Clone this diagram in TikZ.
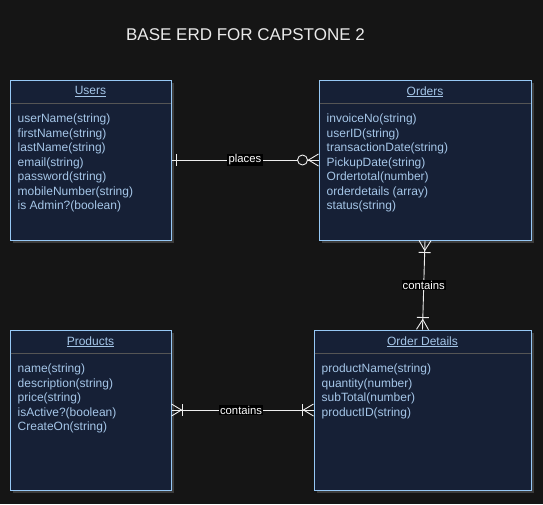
\documentclass[tikz,border=0pt]{standalone}
\usepackage{fontspec}
\setmainfont{Liberation Sans}
\usetikzlibrary{calc,shadows}
\definecolor{bgc}{RGB}{21,21,21}
\definecolor{boxfill}{RGB}{22,32,54}
\definecolor{boxline}{RGB}{150,200,245}
\definecolor{txt}{RGB}{165,198,232}
\definecolor{sepline}{RGB}{85,85,85}
\definecolor{shad}{RGB}{60,60,60}
\definecolor{conc}{RGB}{238,238,238}
\tikzset{
  entity/.style={draw=boxline, fill=boxfill, line width=1pt, inner sep=0pt,
    drop shadow={shadow xshift=2.5pt, shadow yshift=-2.5pt, fill=shad, opacity=1}},
  ehead/.style={text=txt, font=\fontsize{12}{14}\selectfont, inner sep=0pt},
  eattr/.style={text=txt, font=\fontsize{12}{14.5}\selectfont, align=left, inner sep=0pt, anchor=north west},
  sep/.style={draw=sepline, line width=1.5pt},
  conn/.style={draw=conc, line width=0.9pt},
  rlabel/.style={fill=black, text=white, font=\fontsize{11.3}{13}\selectfont, inner sep=1.2pt},
}
\newcommand\crowfoot[2]{%
  \draw[conn] ($(#1)!6pt!90:(#2)$) -- ($(#1)!10pt!(#2)$) -- ($(#1)!6pt!-90:(#2)$);}
\newcommand\barmark[3]{%
  \coordinate (bm) at ($(#1)!#3!(#2)$);
  \draw[conn] ($(bm)!6pt!90:(#2)$) -- ($(bm)!6pt!-90:(#2)$);}
\newcommand\ringmark[3]{%
  \coordinate (rm) at ($(#1)!#3!(#2)$);
  \draw[conn, fill=bgc] (rm) circle (5pt);}
\begin{document}
\begin{tikzpicture}[x=1pt,y=-1pt]
\fill[bgc] (0,0) rectangle (543,504);
\useasboundingbox (0,0) rectangle (543,504);

\node[text={rgb,255:red,235;green,235;blue,235}, font=\fontsize{17}{19}\selectfont, inner sep=0pt] (title) at (245.5,34.5) {BASE ERD FOR CAPSTONE 2};

% Users
\node[entity, minimum width=161pt, minimum height=160pt] (users) at (90.5,160) {};
\node[ehead] (usersh) at ($(users.north)+(0,12.3)$) {\underline{Users}};
\draw[sep] ($(users.north west)+(1,24)$) -- ($(users.north east)+(-1,24)$);
\node[eattr] (usersa) at ($(users.north west)+(8,34.3)$) {userName(string)\\firstName(string)\\lastName(string)\\email(string)\\password(string)\\mobileNumber(string)\\is Admin?(boolean)};

% Orders
\node[entity, minimum width=212pt, minimum height=160pt] (orders) at (425,160) {};
\node[ehead] (ordersh) at ($(orders.north)+(0,12.3)$) {\underline{Orders}};
\draw[sep] ($(orders.north west)+(1,24)$) -- ($(orders.north east)+(-1,24)$);
\node[eattr] (ordersa) at ($(orders.north west)+(8,34.3)$) {invoiceNo(string)\\userID(string)\\transactionDate(string)\\PickupDate(string)\\Ordertotal(number)\\orderdetails (array)\\status(string)};

% Products
\node[entity, minimum width=161pt, minimum height=160pt] (products) at (90.5,410) {};
\node[ehead] (productsh) at ($(products.north)+(0,12.3)$) {\underline{Products}};
\draw[sep] ($(products.north west)+(1,24)$) -- ($(products.north east)+(-1,24)$);
\node[eattr] (productsa) at ($(products.north west)+(8,34.3)$) {name(string)\\description(string)\\price(string)\\isActive?(boolean)\\CreateOn(string)};

% Order Details
\node[entity, minimum width=217pt, minimum height=160pt] (od) at (422.5,410) {};
\node[ehead] (odh) at ($(od.north)+(0,12.3)$) {\underline{Order Details}};
\draw[sep] ($(od.north west)+(1,24)$) -- ($(od.north east)+(-1,24)$);
\node[eattr] (oda) at ($(od.north west)+(8,34.3)$) {productName(string)\\quantity(number)\\subTotal(number)\\productID(string)};

% Users -- Orders (places)
\draw[conn] (users.east) -- node[rlabel, pos=0.5] (l1) {places} (orders.west);
\barmark{users.east}{orders.west}{5pt}
\crowfoot{orders.west}{users.east}
\ringmark{orders.west}{users.east}{16pt}

% Orders -- Order Details (contains)
\draw[conn] (orders.south) -- node[rlabel, pos=0.5] (l2) {contains} (od.north);
\crowfoot{orders.south}{od.north}
\barmark{orders.south}{od.north}{12pt}
\crowfoot{od.north}{orders.south}
\barmark{od.north}{orders.south}{12pt}

% Products -- Order Details (contains)
\draw[conn] (products.east) -- node[rlabel, pos=0.49] (l3) {contains} (od.west);
\crowfoot{products.east}{od.west}
\barmark{products.east}{od.west}{11pt}
\crowfoot{od.west}{products.east}
\barmark{od.west}{products.east}{11pt}
\end{tikzpicture}
\end{document}
